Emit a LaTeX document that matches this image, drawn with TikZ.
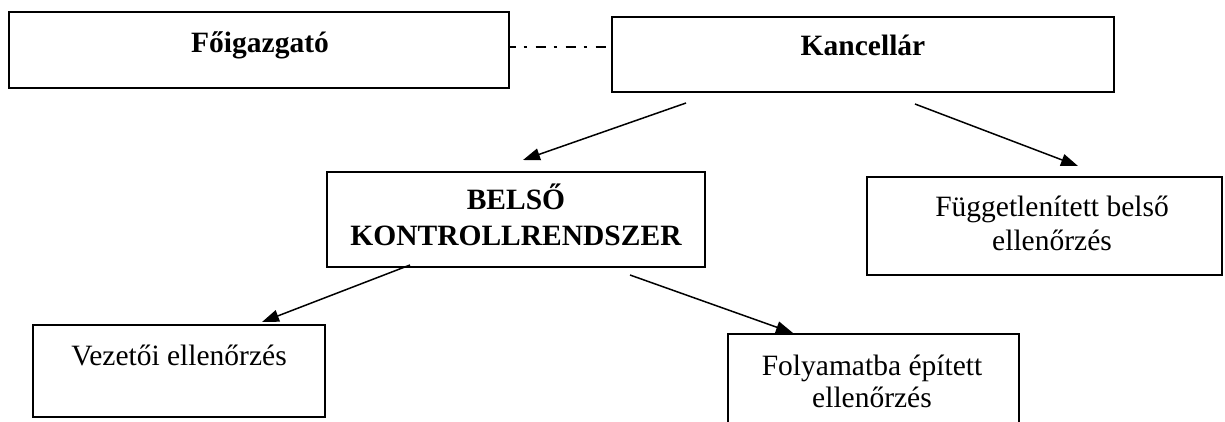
\documentclass[tikz,border=0pt]{standalone}
\usepackage{fontspec}
\setmainfont{Liberation Serif}
\usetikzlibrary{arrows.meta}
\begin{document}
\begin{tikzpicture}[x=1pt,y=-1pt,
  box/.style={draw, line width=1.4pt, inner sep=0pt, rectangle},
  boldtxt/.style={font=\fontsize{29.5}{36}\selectfont\bfseries, anchor=base, align=center},
  plain/.style={font=\fontsize{29.5}{33}\selectfont, anchor=base, align=center},
  arr/.style={line width=1.5pt, -{Triangle[length=17pt,width=12pt]}},
  dashdot/.style={line width=1.5pt, dash pattern=on 10pt off 8pt on 3pt off 9pt, dash phase=4pt}]
\clip (0,0) rectangle (1225,421);
\fill[white] (0,0) rectangle (1225,421);
% boxes
\node[box, minimum width=500pt, minimum height=76pt] (fo) at (259,50) {};
\node[box, minimum width=502pt, minimum height=75pt] (ka) at (863,54.5) {};
\node[box, minimum width=378pt, minimum height=95pt] (be) at (516,219.5) {};
\node[box, minimum width=355pt, minimum height=98pt] (fu) at (1044.5,226) {};
\node[box, minimum width=292pt, minimum height=92pt] (ve) at (179,371) {};
\node[box, minimum width=291pt, minimum height=90pt] (fy) at (873.5,379) {};
% texts
\node[boldtxt] (tfo) at (260,52) {Főigazgató};
\node[boldtxt] (tka) at (863,55) {Kancellár};
\node[boldtxt] (tbe1) at (516,209) {BELSŐ};
\node[boldtxt] (tbe2) at (516,245) {KONTROLLRENDSZER};
\node[plain] (tfu1) at (1052,216) {Függetlenített belső};
\node[plain] (tfu2) at (1052,250) {ellenőrzés};
\node[plain] (tve) at (179,365) {Vezetői ellenőrzés};
\node[plain] (tfy1) at (872,375) {Folyamatba épített};
\node[plain] (tfy2) at (872,407) {ellenőrzés};
% connector points
\coordinate (a1s) at (686,103);
\coordinate (a1e) at (523,160);
\coordinate (a2s) at (915,104);
\coordinate (a2e) at (1078,166);
\coordinate (a3s) at (410,265);
\coordinate (a3e) at (262,322);
\coordinate (a4s) at (630,275);
\coordinate (a4e) at (793,333);
% connectors
\draw[dashdot] (fo.east |- 0,47) -- (ka.west |- 0,47);
\draw[arr] (a1s) -- (a1e);
\draw[arr] (a2s) -- (a2e);
\draw[arr] (a3s) -- (a3e);
\draw[arr] (a4s) -- (a4e);
\end{tikzpicture}
\end{document}
